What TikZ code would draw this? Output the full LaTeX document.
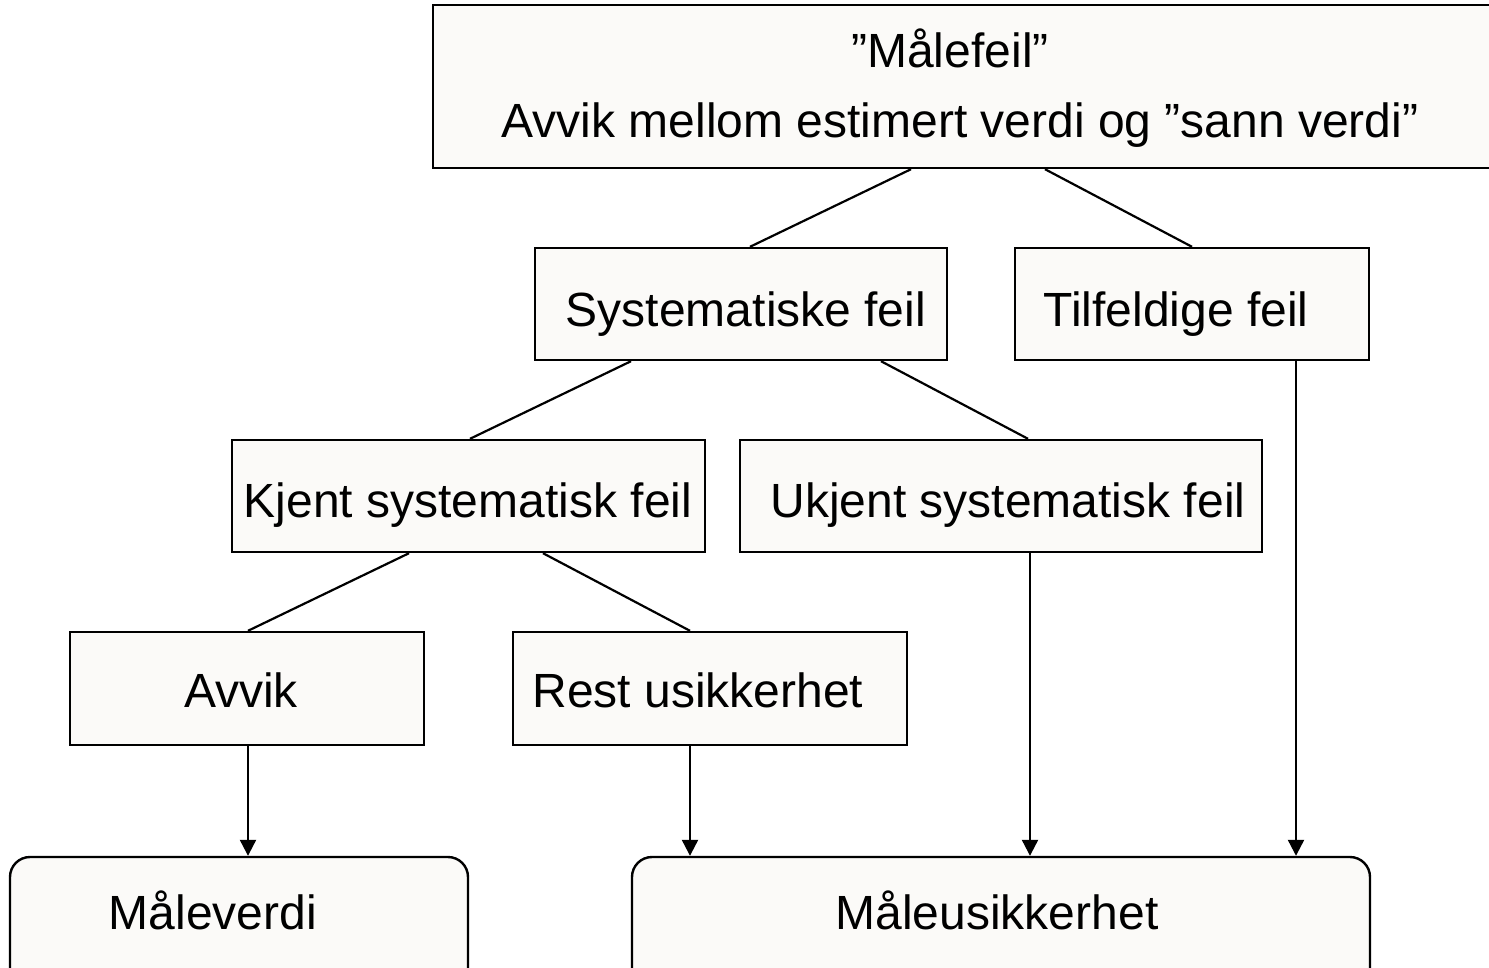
\documentclass[tikz,border=0pt]{standalone}
\usepackage{fontspec}
\setmainfont{Liberation Sans}
\usetikzlibrary{arrows.meta}
\definecolor{boxfill}{HTML}{FBFAF8}
\tikzset{
  box/.style={draw=black, line width=2.4pt, fill=boxfill, rectangle, inner sep=0pt},
  rbox/.style={box, rounded corners=20pt},
  txt/.style={anchor=base, inner sep=0pt, font=\fontsize{48}{58}\selectfont},
  conn/.style={draw=black, line width=2.2pt},
  arr/.style={conn, -{Triangle[length=16pt,width=16pt]}}
}
\begin{document}
\begin{tikzpicture}[x=1pt,y=-1pt]
\useasboundingbox (0,0) rectangle (1489,967);
\clip (0,0) rectangle (1489,967);
\fill[white] (0,0) rectangle (1489,967);
% boxes
\node[box, minimum width=1062pt, minimum height=163pt] (top) at (964,86.5) {};
\node[box, minimum width=412pt, minimum height=112pt] (sys) at (741,304) {};
\node[box, minimum width=354pt, minimum height=112pt] (tilf) at (1192,304) {};
\node[box, minimum width=473pt, minimum height=112pt] (kjent) at (468.5,496) {};
\node[box, minimum width=522pt, minimum height=112pt] (ukjent) at (1001,496) {};
\node[box, minimum width=354pt, minimum height=113pt] (avvik) at (247,688.5) {};
\node[box, minimum width=394pt, minimum height=113pt] (rest) at (710,688.5) {};
\node[rbox, minimum width=458pt, minimum height=140pt] (maalev) at (239,927) {};
\node[rbox, minimum width=738pt, minimum height=140pt] (maaleu) at (1001,927) {};
% texts
\node[txt] (t1) at (950,67) {”Målefeil”};
\node[txt] (t2) at (960,137) {Avvik mellom estimert verdi og ”sann verdi”};
\node[txt] (t3) at (746,326) {Systematiske feil};
\node[txt] (t4) at (1176,326) {Tilfeldige feil};
\node[txt] (t5) at (468,517) {Kjent systematisk feil};
\node[txt] (t6) at (1008,517) {Ukjent systematisk feil};
\node[txt] (t7) at (241,707) {Avvik};
\node[txt] (t8) at (698,707) {Rest usikkerhet};
\node[txt] (t9) at (213,929) {Måleverdi};
\node[txt] (t10) at (997,929) {Måleusikkerhet};
% connectors
\draw[conn] ([xshift=-53pt]top.south) -- ([xshift=9pt]sys.north);
\draw[conn] ([xshift=81pt]top.south) -- (tilf.north);
\draw[conn] ([xshift=-110pt]sys.south) -- ([xshift=1.5pt]kjent.north);
\draw[conn] ([xshift=140pt]sys.south) -- ([xshift=27pt]ukjent.north);
\draw[conn] ([xshift=-59.5pt]kjent.south) -- ([xshift=1pt]avvik.north);
\draw[conn] ([xshift=74.5pt]kjent.south) -- ([xshift=-20pt]rest.north);
% arrows
\coordinate (a1) at ([xshift=1pt]avvik.south);
\coordinate (a2) at ([xshift=-20pt]rest.south);
\coordinate (a3) at ([xshift=29pt]ukjent.south);
\coordinate (a4) at ([xshift=104pt]tilf.south);
\draw[arr] (a1) -- (a1 |- maalev.north);
\draw[arr] (a2) -- (a2 |- maaleu.north);
\draw[arr] (a3) -- (a3 |- maaleu.north);
\draw[arr] (a4) -- (a4 |- maaleu.north);
\end{tikzpicture}
\end{document}
